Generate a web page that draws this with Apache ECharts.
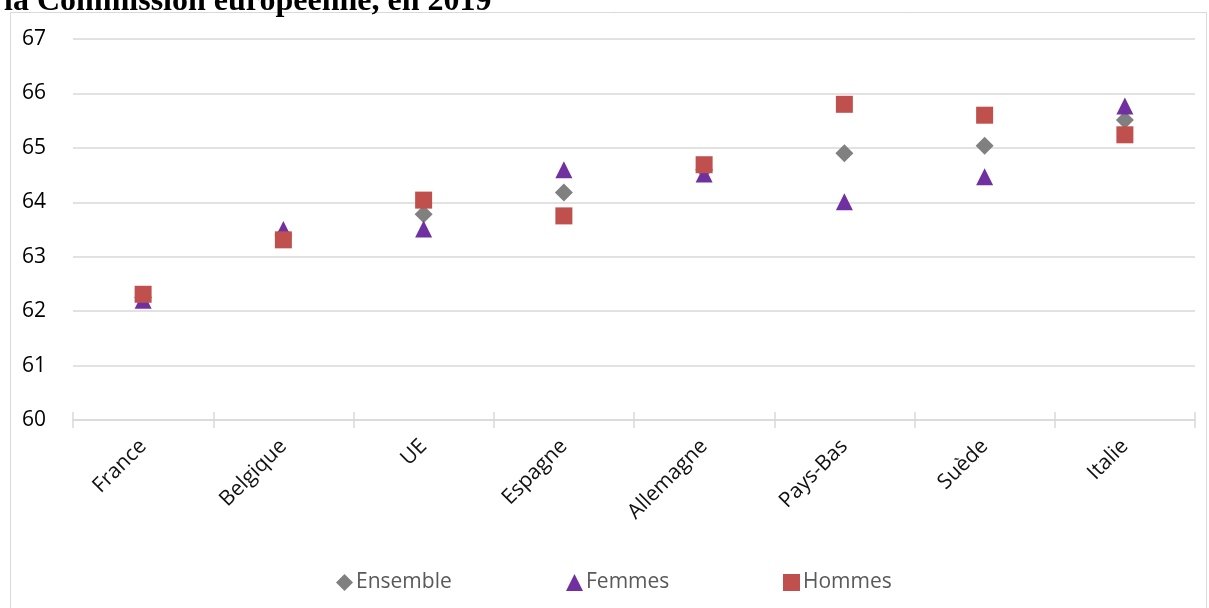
<!DOCTYPE html>
<html>
<head>
<meta charset="utf-8">
<script src="https://cdn.jsdelivr.net/npm/echarts@6/dist/echarts.min.js"></script>
<style>
  html, body { margin: 0; padding: 0; background: #ffffff; }
  #chart { width: 1209px; height: 608px; }
</style>
</head>
<body>
<div id="chart"></div>
<script>
// Age moyen de sortie du marché du travail, 2019
const categories = ['France', 'Belgique', 'UE', 'Espagne', 'Allemagne', 'Pays-Bas', 'Suède', 'Italie'];
const ensemble = [62.25, 63.4, 63.78, 64.18, 64.6, 64.9, 65.04, 65.51];
const femmes   = [62.2, 63.5, 63.51, 64.6, 64.52, 64.01, 64.47, 65.77];
const hommes   = [62.31, 63.31, 64.04, 63.75, 64.69, 65.8, 65.6, 65.24];
const yTicks = [60, 61, 62, 63, 64, 65, 66, 67];

const FONT = 'Open Sans';
const chart = echarts.init(document.getElementById('chart'), null, { renderer: 'canvas' });

const markerBase = { type: 'scatter', z: 3 };

chart.setOption({
  backgroundColor: '#ffffff',
  animation: false,
  title: {
    text: 'la Commission européenne, en 2019',
    left: -1,
    top: -19,
    textStyle: { fontFamily: 'Liberation Serif', fontWeight: 'bold', fontSize: 32, color: '#000000' }
  },
  graphic: [{
    type: 'rect',
    shape: { x: 10.5, y: 12.5, width: 1196, height: 620 },
    style: { fill: 'none', stroke: '#d9d9d9', lineWidth: 1 },
    silent: true,
    z: -1
  }],
  legend: [
    { data: [{ name: 'Ensemble', icon: 'diamond' }], left: 331, top: 567 },
    { data: [{ name: 'Femmes', icon: 'triangle' }], left: 561, top: 567 },
    { data: [{ name: 'Hommes', icon: 'rect' }], left: 778, top: 567 }
  ].map(l => Object.assign(l, {
    itemWidth: 17, itemHeight: 17, itemGap: 4,
    textStyle: { fontFamily: FONT, fontSize: 21, color: '#595959', padding: [0, 0, 0, -2] }
  })),
  grid: { left: 73, right: 14, top: 39, bottom: 188 },
  xAxis: [{
    type: 'category',
    data: categories,
    boundaryGap: true,
    axisLine: { show: true, lineStyle: { color: '#d9d9d9', width: 1.5 } },
    axisTick: { show: true, length: 8, lineStyle: { color: '#d9d9d9', width: 1.5 } },
    axisLabel: { rotate: 45, margin: 23, fontFamily: FONT, fontSize: 21, color: '#111111' },
    splitLine: { show: false }
  }, {
    // inner half of the crossing tick marks
    type: 'category',
    data: categories,
    position: 'bottom',
    boundaryGap: true,
    axisLine: { show: false },
    axisTick: { show: true, inside: true, length: 8, lineStyle: { color: '#d9d9d9', width: 1.5 } },
    axisLabel: { show: false }
  }],
  yAxis: {
    type: 'value',
    min: yTicks[0],
    max: yTicks[yTicks.length - 1],
    interval: 1,
    axisLine: { show: false },
    axisTick: { show: false },
    axisLabel: { margin: 27, fontFamily: FONT, fontSize: 21, color: '#000000' },
    splitLine: { lineStyle: { color: '#d9d9d9', width: 1.5 } }
  },
  series: [
    Object.assign({}, markerBase, {
      name: 'Ensemble', data: ensemble, symbol: 'diamond', symbolSize: 18,
      itemStyle: { color: '#808080', opacity: 1 }
    }),
    Object.assign({}, markerBase, {
      name: 'Femmes', data: femmes, symbol: 'triangle', symbolSize: 17,
      itemStyle: { color: '#7030a0', opacity: 1 }
    }),
    Object.assign({}, markerBase, {
      name: 'Hommes', data: hommes, symbol: 'rect', symbolSize: 17,
      itemStyle: { color: '#c0504d', opacity: 1 }
    })
  ]
});
</script>
</body>
</html>
